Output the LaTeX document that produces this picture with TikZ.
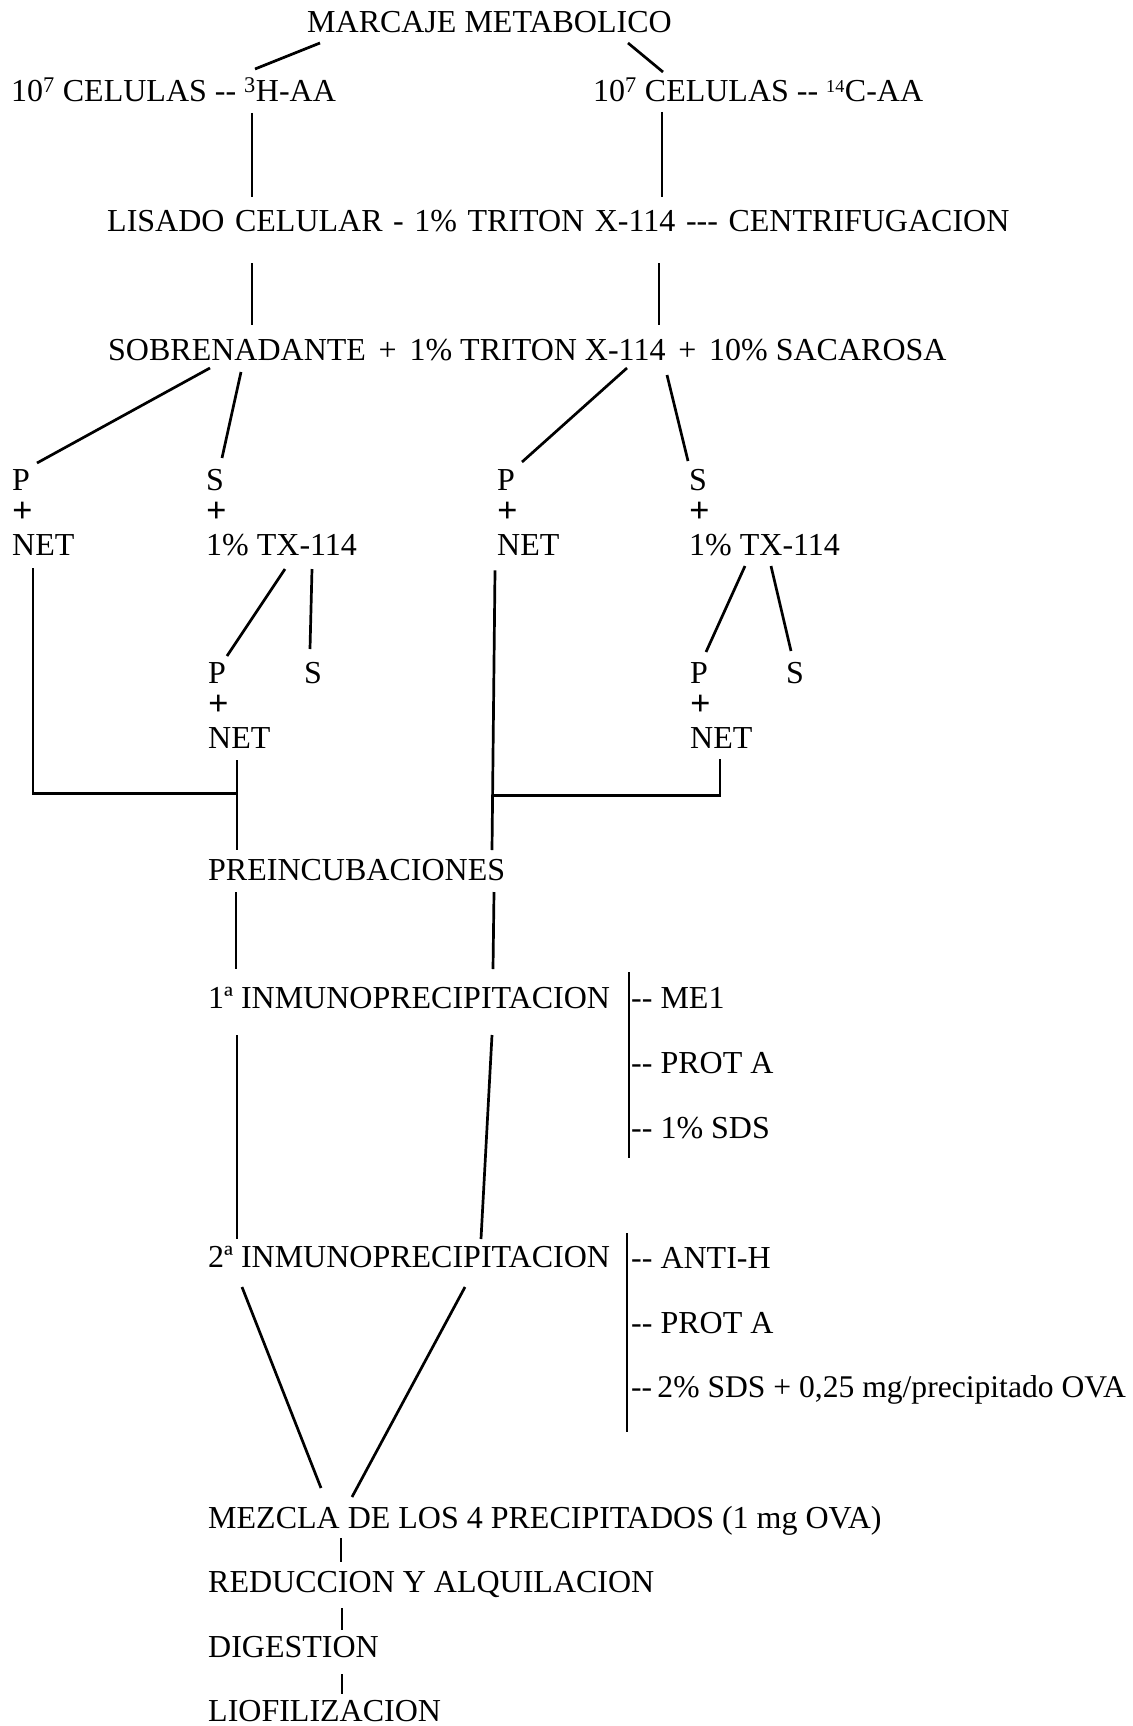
\documentclass[tikz,border=0pt]{standalone}
\usepackage{fontspec}
\setmainfont{Liberation Serif}
\usepackage{tikz}
\tikzset{
  lbl/.style={font=\fontsize{32}{32.5}\selectfont,inner sep=0pt,anchor=base west},
  stack/.style={lbl,anchor=north west,align=left},
  link/.style={line width=2.7pt}
}
\newcommand{\dsh}{{-}{-}}
\newcommand{\pl}{\hspace{.4em}+\hspace{.4em}}
\newcommand{\bplus}{{\fontsize{36}{32.5}\selectfont\bfseries +}}

\begin{document}
\begin{tikzpicture}[x=1pt,y=-1pt]
\useasboundingbox (0,0) rectangle (1132,1726);
% labelling and lysis
\node[lbl] (mar) at (307,33) {MARCAJE METABOLICO};
\node[lbl] (cel3) at (11,102) {10\textsuperscript{7} CELULAS \dsh{} \textsuperscript{3}H-AA};
\node[lbl] (cel14) at (593,102) {10\textsuperscript{7} CELULAS \dsh{} {\fontsize{26}{26}\selectfont\textsuperscript{14}}C-AA};
\node[lbl] (lis) at (107,231) {LISADO\hspace{.33em}CELULAR\hspace{.33em}-\hspace{.33em}1\%\hspace{.33em}TRITON\hspace{.33em}X-114\hspace{.33em}{-}{-}{-}\hspace{.33em}CENTRIFUGACION};
\node[lbl] (sob) at (108,360) {SOBRENADANTE\pl 1\% TRITON X-114\pl 10\% SACAROSA};
% phases
\node[stack] (pn1) at (12,469) {P\\\bplus\\NET};
\node[stack] (st1) at (206,469) {S\\\bplus\\1\% TX-114};
\node[stack] (pn2) at (497,469) {P\\\bplus\\NET};
\node[stack] (st2) at (689,469) {S\\\bplus\\1\% TX-114};
\node[stack] (pn3) at (208,662) {P\\\bplus\\NET};
\node[lbl] (s3) at (304,683) {S};
\node[stack] (pn4) at (690,662) {P\\\bplus\\NET};
\node[lbl] (s4) at (786,683) {S};
% precipitations
\node[lbl] (pre) at (208,880) {PREINCUBACIONES};
\node[lbl] (inm1) at (208,1008) {1ª INMUNOPRECIPITACION};
\node[lbl] (me1) at (631,1008) {\dsh{} ME1};
\node[lbl] (pa1) at (631,1073) {\dsh{} PROT A};
\node[lbl] (sds1) at (631,1138) {\dsh{} 1\% SDS};
\node[lbl] (inm2) at (208,1267) {2ª INMUNOPRECIPITACION};
\node[lbl] (ah) at (631,1268) {\dsh{} ANTI-H};
\node[lbl] (pa2) at (631,1333) {\dsh{} PROT A};
\node[lbl,font=\fontsize{31.6}{31}\selectfont] (sds2) at (631,1397) {\dsh\,2\% SDS + 0,25 mg/precipitado OVA};
\node[lbl] (mez) at (208,1528) {MEZCLA DE LOS 4 PRECIPITADOS (1 mg OVA)};
\node[lbl] (red) at (208,1592) {REDUCCION Y ALQUILACION};
\node[lbl] (dig) at (208,1657) {DIGESTION};
\node[lbl] (lio) at (208,1721) {LIOFILIZACION};
% top
\draw[link] ([shift={(13,10)}]mar.base west) -- ([shift={(244,-33)}]cel3.base west);
\draw[link] ([shift={(321,10)}]mar.base west) -- ([shift={(70,-30)}]cel14.base west);
\draw[link] ([shift={(241,11)}]cel3.base west) -- ([shift={(145,-34)}]lis.base west);
\draw[link] ([shift={(69,10)}]cel14.base west) -- ([shift={(555,-34)}]lis.base west);
\draw[link] ([shift={(145,32)}]lis.base west) -- ([shift={(144,-35)}]sob.base west);
\draw[link] ([shift={(552,32)}]lis.base west) -- ([shift={(551,-35)}]sob.base west);
% branches
\draw[link] ([shift={(102,8)}]sob.base west) -- ([shift={(25,-6)}]pn1.north west);
\draw[link] ([shift={(133,12)}]sob.base west) -- ([shift={(16,-11)}]st1.north west);
\draw[link] ([shift={(519,8)}]sob.base west) -- ([shift={(25,-7)}]pn2.north west);
\draw[link] ([shift={(559,15)}]sob.base west) -- ([shift={(-1,-8)}]st2.north west);
\draw[link] ([shift={(79,13)}]st1.south west) -- ([shift={(19,-6)}]pn3.north west);
\draw[link] ([shift={(106,13)}]st1.south west) -- ([shift={(6,-34)}]s3.base west);
\draw[link] ([shift={(56,10)}]st2.south west) -- ([shift={(16,-10)}]pn4.north west);
\draw[link] ([shift={(82,10)}]st2.south west) -- ([shift={(5,-32)}]s4.base west);
% merging
\draw[link] ([shift={(21,13)}]pn1.south west) |- ([shift={(29,45)}]pn3.south west);
\draw[link] ([shift={(29,12)}]pn3.south west) -- ([shift={(29,-30)}]pre.base west);
\draw[link] ([shift={(-2,15)}]pn2.south west) -- ([shift={(284,-30)}]pre.base west);
\draw[link] ([shift={(30,11)}]pn4.south west) |- ([shift={(-3,240)}]pn2.south west);
% immunoprecipitations
\draw[link] ([shift={(28,12)}]pre.base west) -- ([shift={(28,-39)}]inm1.base west);
\draw[link] ([shift={(286,12)}]pre.base west) -- ([shift={(285,-39)}]inm1.base west);
\draw[link] ([shift={(29,27)}]inm1.base west) -- ([shift={(29,-28)}]inm2.base west);
\draw[link] ([shift={(284,27)}]inm1.base west) -- ([shift={(273,-28)}]inm2.base west);
\draw[link] ([shift={(-2,-36)}]me1.base west) -- ([shift={(-2,20)}]sds1.base west);
\draw[link] ([shift={(-4,-35)}]ah.base west) -- ([shift={(-4,35)}]sds2.base west);
% final steps
\draw[link] ([shift={(34,20)}]inm2.base west) -- ([shift={(113,-40)}]mez.base west);
\draw[link] ([shift={(257,20)}]inm2.base west) -- ([shift={(144,-31)}]mez.base west);
\draw[link] ([shift={(133,10)}]mez.base west) -- ([shift={(133,-30)}]red.base west);
\draw[link] ([shift={(134,16)}]red.base west) -- ([shift={(134,-27)}]dig.base west);
\draw[link] ([shift={(134,17)}]dig.base west) -- ([shift={(134,-27)}]lio.base west);
\end{tikzpicture}
\end{document}
